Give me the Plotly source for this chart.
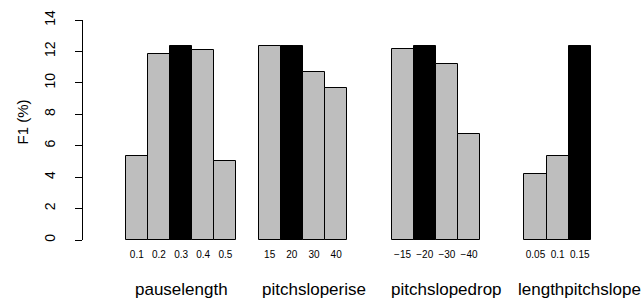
import plotly.graph_objects as go

groups = ["pauselength", "pitchsloperise", "pitchslopedrop", "lengthpitchslope"]
param_labels = [
    ["0.1", "0.2", "0.3", "0.4", "0.5"],
    ["15", "20", "30", "40"],
    ["\u221215", "\u221220", "\u221230", "\u221240"],
    ["0.05", "0.1", "0.15"],
]
f1_values = [
    [5.35, 11.82, 12.37, 12.07, 5.04],
    [12.35, 12.37, 10.71, 9.69],
    [12.18, 12.37, 11.18, 6.72],
    [4.21, 5.32, 12.37],
]
best_index = [2, 1, 1, 2]
y_ticks = [0, 2, 4, 6, 8, 10, 12, 14]

GROUP_SLOTS = 6  # 5 bar slots + 1 space slot per group

xs, ys, colors, tickvals, ticktext = [], [], [], [], []
for g, (labs, vals) in enumerate(zip(param_labels, f1_values)):
    for i, (lab, v) in enumerate(zip(labs, vals)):
        x = g * GROUP_SLOTS + i + 0.5
        xs.append(x)
        ys.append(v)
        colors.append("#000000" if i == best_index[g] else "#BEBEBE")
        tickvals.append(x)
        ticktext.append(lab)

fig = go.Figure(go.Bar(
    x=xs, y=ys, width=1.0,
    marker=dict(color=colors, line=dict(color="#000000", width=1)),
    hoverinfo="skip",
))

W, H = 642, 299
ml, mr, mt, mb = 83, 22, 20, 59
px_per_slot = 22.15
plot_w = W - ml - mr
plot_h = H - mt - mb
x0 = -(125.7 - ml) / px_per_slot
x1 = x0 + plot_w / px_per_slot

FONT = "Liberation Sans, Arial, sans-serif"
annotations = []
for g, name in enumerate(groups):
    annotations.append(dict(
        x=g * GROUP_SLOTS + 2.5, y=0, xref="x", yref="y",
        text=name, showarrow=False, yanchor="top", xanchor="center",
        yshift=-38, font=dict(size=17, color="#000000", family=FONT),
    ))
annotations.append(dict(
    x=(22 - ml) / plot_w, y=((H - mb) - 122.5) / plot_h,
    xref="paper", yref="paper", text="F1 (%)", showarrow=False,
    textangle=-90, xanchor="center", yanchor="middle",
    font=dict(size=15, color="#000000", family=FONT),
))

fig.update_layout(
    width=W, height=H,
    margin=dict(l=ml, r=mr, t=mt, b=mb, pad=0, autoexpand=False),
    paper_bgcolor="#FFFFFF", plot_bgcolor="#FFFFFF",
    showlegend=False,
    bargap=0,
    font=dict(family=FONT, color="#000000"),
    annotations=annotations,
    xaxis=dict(
        range=[x0, x1], tickmode="array", tickvals=tickvals, ticktext=ticktext,
        showgrid=False, zeroline=False, showline=False, ticks="",
        tickfont=dict(size=10, color="#000000"), ticklabelstandoff=7,
        automargin=False,
    ),
    yaxis=dict(
        range=[0, 14], tickmode="array", tickvals=y_ticks,
        showgrid=False, zeroline=False, showline=True, linecolor="#000000",
        linewidth=1, ticks="outside", ticklen=7, tickcolor="#000000",
        tickwidth=1, tickangle=-90, tickfont=dict(size=14, color="#000000"),
        ticklabelstandoff=14, automargin=False,
    ),
)

fig.write_html(
    "out.html",
    config={"displayModeBar": False},
    post_script="document.body.style.margin='0';document.body.style.overflow='hidden';",
)
